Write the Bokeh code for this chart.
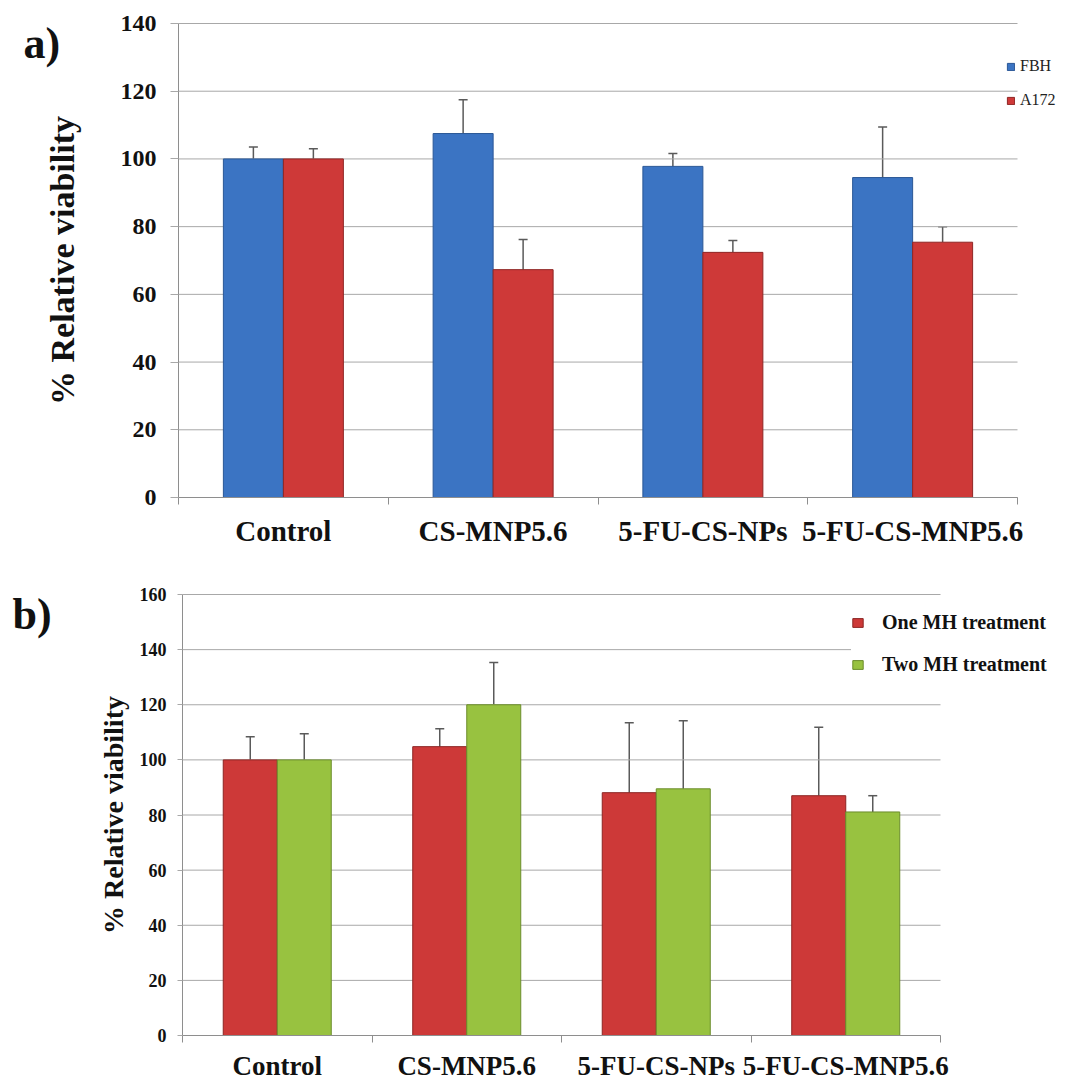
from bokeh.plotting import figure
from bokeh.models import (Range1d, FixedTicker, Whisker, TeeHead, ColumnDataSource,
                          Legend, LegendItem, Label)
from bokeh.layouts import column
from bokeh.embed import file_html
from bokeh.resources import INLINE

# ---------------- data ----------------
categories = ["Control", "CS-MNP5.6", "5-FU-CS-NPs", "5-FU-CS-MNP5.6"]

a_fbh = [100.0, 107.5, 97.8, 94.5]
a_fbh_err = [3.5, 10.0, 3.8, 14.9]
a_a172 = [100.0, 67.3, 72.4, 75.4]
a_a172_err = [3.0, 8.9, 3.5, 4.6]
a_yticks = [0, 20, 40, 60, 80, 100, 120, 140]

b_one = [100.0, 104.8, 88.1, 87.0]
b_one_err = [8.4, 6.5, 25.4, 24.8]
b_two = [100.0, 120.0, 89.5, 81.1]
b_two_err = [9.5, 15.3, 24.7, 5.9]
b_yticks = [0, 20, 40, 60, 80, 100, 120, 140, 160]

SERIF = "Liberation Serif"
GRID = "#A8A8A8"
AXIS = "#8E8E8E"
ERR = "#5A5A5A"
PAGE_L = 0
W = 1083


def panel(canvas_top, height, frame_px, yticks, series, st):
    """frame_px = (x of value-axis, x of end of category axis, y of zero, y of top tick) in page px."""
    ax_l, ax_r, ax_b, ax_t = frame_px
    n = len(categories)
    ymax = yticks[-1]
    ppx = (ax_r - ax_l) / n
    ppy = (ax_b - ax_t) / ymax
    x_rng = Range1d((PAGE_L - ax_l) / ppx, (PAGE_L + W - ax_l) / ppx)
    y_rng = Range1d((ax_b - (canvas_top + height)) / ppy, (ax_b - canvas_top) / ppy)
    p = figure(width=W, height=height, x_range=x_rng, y_range=y_rng,
               output_backend="svg", toolbar_location=None, min_border=0)
    p.outline_line_color = None
    p.xgrid.visible = False
    p.ygrid.visible = False

    # horizontal grid lines limited to the category span
    p.segment(x0=[0] * len(yticks), x1=[n] * len(yticks), y0=yticks, y1=yticks,
              line_color=GRID, line_width=1)

    # value axis, fixed at x = 0
    ya = p.yaxis[0]
    ya.fixed_location = 0
    ya.bounds = (0, ymax)
    ya.ticker = FixedTicker(ticks=yticks)
    ya.axis_line_color = AXIS
    ya.major_tick_line_color = GRID
    ya.major_tick_out = st["tick_out"]
    ya.major_tick_in = 0
    ya.minor_tick_line_color = None
    ya.major_label_text_font = SERIF
    ya.major_label_text_font_style = "bold"
    ya.major_label_text_font_size = st["tick_font"]
    ya.major_label_text_color = "#111111"
    ya.major_label_standoff = st["tick_standoff"]
    ya.axis_label = "% Relative viability"
    ya.axis_label_text_font = SERIF
    ya.axis_label_text_font_style = "bold"
    ya.axis_label_text_font_size = st["ylab_font"]
    ya.axis_label_text_color = "#111111"
    ya.axis_label_standoff = st["ylab_standoff"]

    # category axis, fixed at y = 0; labels at centres, small ticks at boundaries
    centers = [i + 0.5 for i in range(n)]
    bounds = [float(i) for i in range(n + 1)]
    xa = p.xaxis[0]
    xa.fixed_location = 0
    xa.bounds = (0, n)
    xa.ticker = FixedTicker(ticks=centers, minor_ticks=bounds)
    xa.major_label_overrides = {c: lab for c, lab in zip(centers, categories)}
    xa.axis_line_color = AXIS
    xa.major_tick_line_color = None
    xa.major_tick_out = 0
    xa.major_tick_in = 0
    xa.minor_tick_line_color = AXIS
    xa.minor_tick_out = 7
    xa.minor_tick_in = 0
    xa.major_label_text_font = SERIF
    xa.major_label_text_font_style = "bold"
    xa.major_label_text_font_size = st["cat_font"]
    xa.major_label_text_color = "#111111"
    xa.major_label_standoff = st["cat_standoff"]

    renderers = []
    for k, (name, vals, errs, fill, line) in enumerate(series):
        shift = -st["off"] if k == 0 else st["off"]
        xs = [c + shift for c in centers]
        src = ColumnDataSource(dict(x=xs, top=vals, up=[v + e for v, e in zip(vals, errs)]))
        r = p.vbar(x="x", top="top", width=st["bar_w"], bottom=0, source=src,
                   fill_color=fill, line_color=line, line_width=1)
        renderers.append((name, r))
        w = Whisker(base="x", lower="top", upper="up", source=src, dimension="height",
                    line_color=ERR, line_width=1.5, lower_head=None,
                    upper_head=TeeHead(size=9, line_color=ERR, line_width=1.5))
        p.add_layout(w)

    def to_data(px, py):
        return (px - ax_l) / ppx, (ax_b - py) / ppy

    return p, renderers, to_data


# ---------------- panel a ----------------
A_TOP, A_H = 0, 560
pa, ra, a_xy = panel(A_TOP, A_H, (178, 1017, 497, 23), a_yticks,
                     [("FBH", a_fbh, a_fbh_err, "#3B74C3", "#2A5796"),
                      ("A172", a_a172, a_a172_err, "#CE3938", "#8F2624")],
                     dict(tick_out=8, tick_standoff=14, tick_font="24px",
                          cat_font="29px", cat_standoff=10,
                          ylab_font="34px", ylab_standoff=37,
                          bar_w=0.286, off=0.143))
leg_a = Legend(items=[LegendItem(label=n, renderers=[r]) for n, r in ra],
               location=(1006, A_TOP + A_H - 110), orientation="vertical",
               background_fill_alpha=0, border_line_color=None,
               glyph_width=9, glyph_height=9, label_height=20, spacing=14,
               padding=2, margin=0, label_standoff=5,
               label_text_font=SERIF, label_text_font_size="16px",
               label_text_color="#222222")
pa.add_layout(leg_a)
lx, ly = a_xy(23, 43)
pa.add_layout(Label(x=lx, y=ly, text="a)", text_font=SERIF, text_font_style="bold",
                    text_font_size="44px", text_baseline="middle", text_align="left",
                    text_color="#111111"))

# ---------------- panel b ----------------
B_TOP, B_H = A_TOP + A_H, 524
pb, rb, b_xy = panel(B_TOP, B_H, (182, 940, 1035, 594), b_yticks,
                     [("One MH treatment", b_one, b_one_err, "#CD3938", "#8C2523"),
                      ("Two MH treatment", b_two, b_two_err, "#98C240", "#6B8C2B")],
                     dict(tick_out=5, tick_standoff=11, tick_font="18px",
                          cat_font="27px", cat_standoff=8,
                          ylab_font="28px", ylab_standoff=8,
                          bar_w=0.285, off=0.1425))
leg_b = Legend(items=[LegendItem(label=n, renderers=[r]) for n, r in rb],
               location=(851, B_TOP + B_H - 676), orientation="vertical",
               background_fill_color="white", background_fill_alpha=1,
               border_line_color=None,
               glyph_width=13, glyph_height=11, label_height=22, spacing=19,
               padding=4, margin=0, label_standoff=18,
               label_text_font=SERIF, label_text_font_style="bold",
               label_text_font_size="20px", label_text_color="#111111")
pb.add_layout(leg_b)
lx, ly = b_xy(12, 614)
pb.add_layout(Label(x=lx, y=ly, text="b)", text_font=SERIF, text_font_style="bold",
                    text_font_size="44px", text_baseline="middle", text_align="left",
                    text_color="#111111"))

layout = column(pa, pb, spacing=0)
open("out.html", "w").write(file_html(layout, INLINE))
